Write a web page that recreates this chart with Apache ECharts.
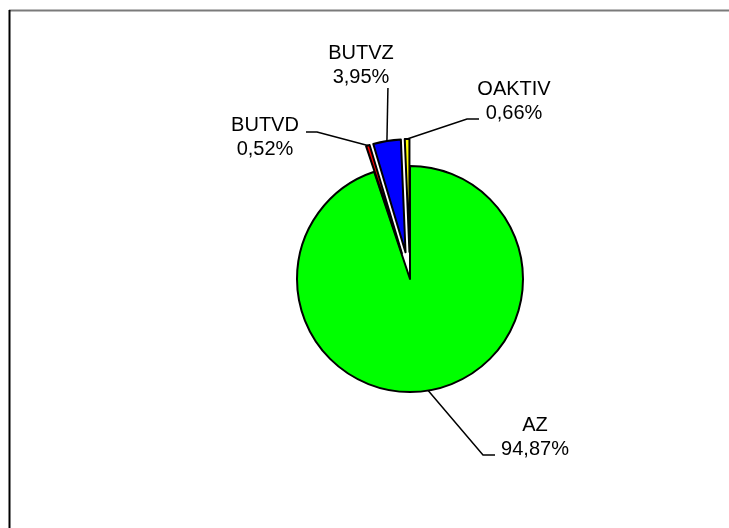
<!DOCTYPE html>
<html>
<head>
<meta charset="utf-8">
<script src="https://cdn.jsdelivr.net/npm/echarts@6/dist/echarts.min.js"></script>
<style>
html,body{margin:0;padding:0;background:#fff;}
#chart{width:729px;height:528px;}
</style>
</head>
<body>
<div id="chart"></div>
<script>
// Data
var categories = ['AZ', 'BUTVD', 'BUTVZ', 'OAKTIV'];
var shares = [94.87, 0.52, 3.95, 0.66];
var exploded = [false, true, true, true];
var sliceColors = ['#00FF00', '#FF0000', '#0000FF', '#FFFF00'];

var PIE_CENTER = [410, 279];
var PIE_RADIUS = 113;
var EXPLODE = 27;

var chart = echarts.init(document.getElementById('chart'), null, {renderer: 'canvas'});

var sliceData = categories.map(function (c, i) {
  return {
    name: c,
    value: shares[i],
    selected: exploded[i],
    itemStyle: {color: sliceColors[i]}
  };
});
var labelData = categories.map(function (c, i) {
  return {name: c, value: shares[i]};
});

// label text centers and leader elbows (layout only)
var labelPos = {
  0: {x: 535, y: 437, pts: function (s) { return [s, [483, 455], [495, 455]]; }},
  1: {x: 265, y: 137, pts: function (s) { return [s, [317, 132], [306, 132]]; }},
  2: {x: 361, y: 65,  pts: function (s) { return [s, [s[0] + 1, 88], [s[0] + 1, 88]]; }},
  3: {x: 514, y: 101, pts: function (s) { return [s, [467, 119], [479, 119]]; }}
};

var option = {
  animation: false,
  backgroundColor: '#ffffff',
  graphic: [
    {type: 'line', shape: {x1: 9, y1: 10.5, x2: 729, y2: 10.5}, style: {stroke: '#7a7a7a', lineWidth: 2}, silent: true},
    {type: 'line', shape: {x1: 9.5, y1: 10, x2: 9.5, y2: 528}, style: {stroke: '#000000', lineWidth: 2}, silent: true}
  ],
  series: [{
    type: 'pie',
    center: PIE_CENTER,
    radius: PIE_RADIUS,
    startAngle: 90,
    clockwise: true,
    selectedMode: 'multiple',
    selectedOffset: EXPLODE,
    silent: true,
    itemStyle: {borderColor: '#000000', borderWidth: 2},
    select: {itemStyle: {borderColor: '#000000', borderWidth: 2}},
    emphasis: {disabled: true},
    label: {show: false},
    labelLine: {show: false},
    data: sliceData
  }, {
    type: 'pie',
    center: PIE_CENTER,
    radius: PIE_RADIUS,
    startAngle: 90,
    clockwise: true,
    silent: true,
    avoidLabelOverlap: false,
    itemStyle: {color: 'rgba(0,0,0,0)', borderWidth: 0},
    emphasis: {disabled: true},
    label: {
      show: true,
      color: '#000000',
      fontFamily: '"Liberation Sans", Arial, sans-serif',
      fontSize: 20,
      lineHeight: 24,
      align: 'center',
      formatter: function (p) {
        return p.name + '\n' + p.value.toFixed(2).replace('.', ',') + '%';
      }
    },
    labelLine: {show: true, lineStyle: {color: '#000000', width: 1.5}, length: 20, length2: 10},
    labelLayout: function (params) {
      var i = params.dataIndex;
      var lp = labelPos[i];
      var s = params.labelLinePoints ? params.labelLinePoints[0].slice() : PIE_CENTER.slice();
      if (exploded[i]) {
        var vx = s[0] - PIE_CENTER[0], vy = s[1] - PIE_CENTER[1];
        var len = Math.sqrt(vx * vx + vy * vy) || 1;
        s = [s[0] + EXPLODE * vx / len, s[1] + EXPLODE * vy / len];
      }
      return {
        x: lp.x,
        y: lp.y,
        align: 'center',
        verticalAlign: 'middle',
        labelLinePoints: lp.pts(s)
      };
    },
    data: labelData
  }]
};
chart.setOption(option);
</script>
</body>
</html>
